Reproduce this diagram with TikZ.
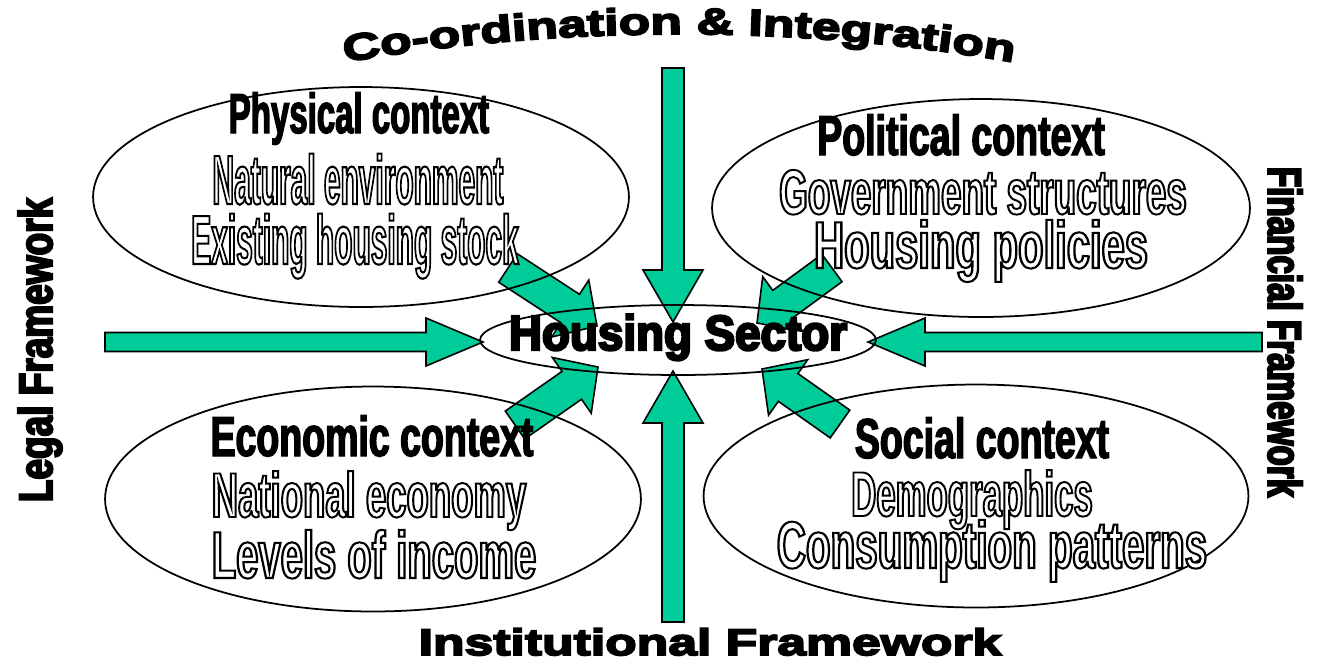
\documentclass[tikz,border=0pt]{standalone}
\usepackage{fontspec}
\setmainfont{Liberation Sans}
\newfontfamily\headingfont[FakeStretch=0.667]{Liberation Sans}
\newfontfamily\hollowfont[FakeStretch=0.55]{Liberation Sans}
\newfontfamily\framefont[FakeStretch=1.4]{Liberation Sans}
\newfontfamily\legalfont[FakeStretch=0.78]{Liberation Sans}
\newfontfamily\financefont[FakeStretch=0.7]{Liberation Sans}
\newfontfamily\sectorfont[FakeStretch=0.93]{Liberation Sans}
% letters stroked round their edge: #1 = stroke width (bp)
\newcommand{\thick}[2]{\special{pdf:literal direct 2 Tr #1 w}#2\special{pdf:literal direct 0 Tr}}
% white letters with a black edge
\newcommand{\outlined}[1]{{\color{white}\special{pdf:literal direct 2 Tr 1.1 w 0 G}#1\special{pdf:literal direct 0 Tr}}}
\newcommand{\frametext}{\framefont\bfseries\fontsize{21}{24}\selectfont}
\usepackage{tikz}
\usetikzlibrary{shapes.geometric, calc, decorations.text}

\definecolor{arrowgreen}{RGB}{0,204,153}

% block arrow: shaft half width, head half width, head length, tail, tip
\newcommand{\blockarrow}[5]{%
  \path ($(#5)!#3!(#4)$) coordinate (ab);
  \filldraw[arrowbody]
    ($(#4)!#1!90:(#5)$) -- ($(ab)!#1!-90:(#4)$) -- ($(ab)!#2!-90:(#4)$) -- (#5)
    -- ($(ab)!#2!90:(#4)$) -- ($(ab)!#1!90:(#4)$) -- ($(#4)!#1!-90:(#5)$) -- cycle;
}

\begin{document}
\begin{tikzpicture}[
  x=0.02cm,
  y=-0.02cm,
  context/.style={ellipse, draw, line width=1pt, inner sep=0pt},
  heading/.style={anchor=base, inner sep=0pt, font=\headingfont\bfseries\fontsize{32}{36}\selectfont},
  hollow/.style={anchor=base, inner sep=0pt, font=\hollowfont\bfseries\fontsize{36}{40}\selectfont},
  arrowbody/.style={fill=arrowgreen, draw=black, line width=0.9pt}
]

\path[use as bounding box, fill=white] (0,0) rectangle (1335,664);

% Arrow ends
\coordinate (top-tail) at (673,68);
\coordinate (top-tip) at (673,322);
\coordinate (bottom-tail) at (673,622);
\coordinate (bottom-tip) at (673,371);
\coordinate (left-tail) at (105,342);
\coordinate (left-tip) at (483,342);
\coordinate (right-tail) at (1262,342);
\coordinate (right-tip) at (868,342);
\coordinate (nw-tail) at (508,268);
\coordinate (nw-tip) at (597,326);
\coordinate (ne-tail) at (832,268);
\coordinate (ne-tip) at (757,323);
\coordinate (sw-tail) at (515,425);
\coordinate (sw-tip) at (598,367);
\coordinate (se-tail) at (840,424);
\coordinate (se-tip) at (762,369);

% Arrows
\blockarrow{0.22cm}{0.6cm}{1.04cm}{top-tail}{top-tip}
\blockarrow{0.22cm}{0.6cm}{1.04cm}{bottom-tail}{bottom-tip}
\blockarrow{0.19cm}{0.48cm}{1.14cm}{left-tail}{left-tip}
\blockarrow{0.19cm}{0.48cm}{1.14cm}{right-tail}{right-tip}
\blockarrow{0.34cm}{0.68cm}{0.64cm}{nw-tail}{nw-tip}
\blockarrow{0.34cm}{0.68cm}{0.64cm}{ne-tail}{ne-tip}
\blockarrow{0.34cm}{0.68cm}{0.64cm}{sw-tail}{sw-tip}
\blockarrow{0.34cm}{0.68cm}{0.64cm}{se-tail}{se-tip}

% Ellipses
\node[context, minimum width=10.72cm, minimum height=4.4cm] (physical) at (361,197) {};
\node[context, minimum width=10.76cm, minimum height=4.36cm] (political) at (981,208) {};
\node[context, minimum width=10.72cm, minimum height=4.5cm] (economic) at (373,499) {};
\node[context, minimum width=10.9cm, minimum height=4.46cm] (social) at (976,496) {};
\node[context, minimum width=7.92cm, minimum height=1.4cm] (sector) at (678,340) {};

% Context items (outlined letters)
\node[hollow, xscale=0.86, yscale=1.1] (physical-a) at (358,204) {\outlined{Natural environment}};
\node[hollow, xscale=0.86, yscale=1.1] (physical-b) at (355,264) {\outlined{Existing housing stock}};
\node[hollow, xscale=1.06] (political-a) at (983,214) {\outlined{Government structures}};
\node[hollow, xscale=1.2, yscale=1.05] (political-b) at (981,268) {\outlined{Housing policies}};
\node[hollow, xscale=1.05] (economic-a) at (369,517) {\outlined{National economy}};
\node[hollow, xscale=1.15, yscale=1.05] (economic-b) at (374,578) {\outlined{Levels of income}};
\node[hollow] (social-a) at (972,516) {\outlined{Demographics}};
\node[hollow, xscale=1.16, yscale=1.05] (social-b) at (992,568) {\outlined{Consumption patterns}};

% Context headings
\node[heading, xscale=0.88] (physical-head) at (359,133) {\thick{0.8}{Physical context}};
\node[heading] (political-head) at (961,155) {\thick{0.8}{Political context}};
\node[heading] (economic-head) at (372,456) {\thick{0.8}{Economic context}};
\node[heading] (social-head) at (982,458) {\thick{0.8}{Social context}};

\node[anchor=base, font=\sectorfont\bfseries\fontsize{28}{32}\selectfont] (sector-name) at (678,350) {\thick{1.4}{Housing Sector}};

% Frameworks
\path[decorate, decoration={text along path, text align=center,
  text={|\frametext\special{pdf:literal direct 2 Tr 1.1 w}|Co-ordination {\&} Integration}}]
  (334,64) .. controls (560,24) and (800,24) .. (1024,64);
\node[anchor=base, font=\frametext] (institutional) at (710,655) {\thick{1.1}{Institutional Framework}};
\node[rotate=90, font=\legalfont\bfseries\fontsize{27}{30}\selectfont] (legal) at (40,350) {\thick{1.1}{Legal Framework}};
\node[rotate=-90, font=\financefont\bfseries\fontsize{27}{30}\selectfont] (financial) at (1285,332) {\thick{1.1}{Financial Framework}};

\end{tikzpicture}
\end{document}
